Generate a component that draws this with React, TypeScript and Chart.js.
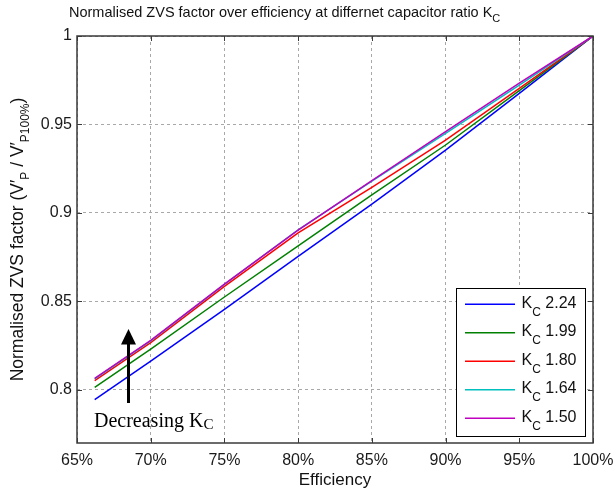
import React, { useEffect, useRef } from 'react';
import { Chart, registerables } from 'chart.js';

Chart.register(...registerables);

// Data
const efficiency = [66.2, 70, 75, 80, 85, 90, 95, 100];
const kc224 = [0.7945, 0.8163, 0.8455, 0.8755, 0.905, 0.9355, 0.9676, 1.0];
const kc199 = [0.8015, 0.823, 0.8525, 0.8814, 0.9102, 0.9384, 0.9691, 1.0];
const kc180 = [0.8052, 0.8267, 0.8585, 0.8888, 0.9145, 0.9412, 0.9704, 1.0];
const kc164 = [0.8062, 0.8277, 0.8596, 0.8905, 0.918, 0.945, 0.9723, 1.0];
const kc150 = [0.8065, 0.828, 0.8598, 0.8903, 0.9183, 0.9459, 0.9733, 1.0];

const seriesValues = [kc224, kc199, kc180, kc164, kc150];
const seriesLabels = ['2.24', '1.99', '1.80', '1.64', '1.50'];
const seriesColors = ['#0000ff', '#008000', '#ff0000', '#00bfbf', '#bf00bf'];

const xTicks = [65, 70, 75, 80, 85, 90, 95, 100];
const yTicks = [0.8, 0.85, 0.9, 0.95, 1];

const SANS = '"Liberation Sans", Arial, sans-serif';
const SERIF = '"Liberation Serif", "Times New Roman", serif';

type Part = { t: string; sub?: boolean };

function partsWidth(ctx: CanvasRenderingContext2D, parts: Part[], main: string, sub: string) {
  let w = 0;
  for (const p of parts) {
    ctx.font = p.sub ? sub : main;
    w += ctx.measureText(p.t).width;
  }
  return w;
}

function drawParts(
  ctx: CanvasRenderingContext2D,
  parts: Part[],
  x: number,
  y: number,
  main: string,
  sub: string,
  subOffset: number
) {
  let cx = x;
  ctx.textAlign = 'left';
  ctx.textBaseline = 'alphabetic';
  for (const p of parts) {
    ctx.font = p.sub ? sub : main;
    ctx.fillText(p.t, cx, p.sub ? y + subOffset : y);
    cx += ctx.measureText(p.t).width;
  }
  return cx;
}

const decorPlugin = {
  id: 'decor',
  afterDraw(chart: any) {
    const ctx: CanvasRenderingContext2D = chart.ctx;
    const area = chart.chartArea;
    const xs = chart.scales.x;
    const ys = chart.scales.y;
    ctx.save();

    // axes box
    ctx.setLineDash([]);
    ctx.strokeStyle = '#3a3a3a';
    ctx.lineWidth = 1.5;
    ctx.strokeRect(area.left, area.top, area.right - area.left, area.bottom - area.top);

    // inner tick marks
    const tl = 5;
    ctx.lineWidth = 1;
    ctx.beginPath();
    for (const v of xTicks) {
      const px = Math.round(xs.getPixelForValue(v)) + 0.5;
      ctx.moveTo(px, area.bottom);
      ctx.lineTo(px, area.bottom - tl);
      ctx.moveTo(px, area.top);
      ctx.lineTo(px, area.top + tl);
    }
    for (const v of yTicks) {
      const py = Math.round(ys.getPixelForValue(v)) + 0.5;
      ctx.moveTo(area.left, py);
      ctx.lineTo(area.left + tl, py);
      ctx.moveTo(area.right, py);
      ctx.lineTo(area.right - tl, py);
    }
    ctx.stroke();

    ctx.fillStyle = '#111';

    // title
    drawParts(
      ctx,
      [{ t: 'Normalised ZVS factor over efficiency at differnet capacitor ratio K' }, { t: 'C', sub: true }],
      69,
      17,
      `14.5px ${SANS}`,
      `11px ${SANS}`,
      5
    );

    // x axis title
    ctx.font = `17px ${SANS}`;
    ctx.textAlign = 'center';
    ctx.textBaseline = 'alphabetic';
    ctx.fillText('Efficiency', (area.left + area.right) / 2, 485);

    // y axis title (rotated)
    const yParts: Part[] = [
      { t: 'Normalised ZVS factor (V\u2032' },
      { t: 'P', sub: true },
      { t: ' / V\u2032' },
      { t: 'P100%', sub: true },
      { t: ')' },
    ];
    const mainF = `17.5px ${SANS}`;
    const subF = `12px ${SANS}`;
    const w = partsWidth(ctx, yParts, mainF, subF);
    ctx.save();
    ctx.translate(23, (area.top + area.bottom) / 2);
    ctx.rotate(-Math.PI / 2);
    drawParts(ctx, yParts, -w / 2, 0, mainF, subF, 5.5);
    ctx.restore();

    // legend
    const lx = 456, ly = 288, lw = 129, lh = 148;
    ctx.fillStyle = '#fff';
    ctx.fillRect(lx, ly, lw, lh);
    ctx.strokeStyle = '#000';
    ctx.lineWidth = 1;
    ctx.strokeRect(lx + 0.5, ly + 0.5, lw, lh);
    chart.data.datasets.forEach((ds: any, i: number) => {
      const yy = 304.3 + i * 28.5;
      ctx.strokeStyle = ds.borderColor;
      ctx.lineWidth = 1.5;
      ctx.beginPath();
      ctx.moveTo(465, yy);
      ctx.lineTo(515, yy);
      ctx.stroke();
      ctx.fillStyle = '#111';
      drawParts(
        ctx,
        [{ t: 'K' }, { t: 'C', sub: true }, { t: ' ' + seriesLabels[i] }],
        521.5,
        yy + 3.5,
        `16px ${SANS}`,
        `12px ${SANS}`,
        8
      );
    });

    // annotation arrow
    ctx.strokeStyle = '#000';
    ctx.fillStyle = '#000';
    ctx.lineWidth = 3;
    ctx.beginPath();
    ctx.moveTo(128.5, 403);
    ctx.lineTo(128.5, 343);
    ctx.stroke();
    ctx.beginPath();
    ctx.moveTo(128.5, 329);
    ctx.lineTo(121, 344.5);
    ctx.lineTo(136, 344.5);
    ctx.closePath();
    ctx.fill();

    drawParts(
      ctx,
      [{ t: 'Decreasing K' }, { t: 'C', sub: true }],
      94,
      426.5,
      `20px ${SERIF}`,
      `15px ${SERIF}`,
      2.5
    );

    ctx.restore();
  },
};

export default function App() {
  const ref = useRef<HTMLCanvasElement | null>(null);

  useEffect(() => {
    if (!ref.current) return;
    const datasets = seriesValues.map((vals, i) => ({
      label: 'K_C ' + seriesLabels[i],
      data: vals.map((v, j) => ({ x: efficiency[j], y: v })),
      borderColor: seriesColors[i],
      backgroundColor: seriesColors[i],
      borderWidth: 1.5,
      pointRadius: 0,
      tension: 0,
      fill: false,
      order: seriesValues.length - i,
    }));

    const chart = new Chart(ref.current, {
      type: 'line',
      data: { datasets },
      options: {
        responsive: false,
        animation: false,
        layout: { padding: { left: 0, right: 21, top: 36, bottom: 0 } },
        plugins: {
          legend: { display: false },
          title: { display: false },
          tooltip: { enabled: false },
        },
        scales: {
          x: {
            type: 'linear',
            min: 65,
            max: 100,
            afterBuildTicks: (scale: any) => {
              scale.ticks = xTicks.map((v) => ({ value: v }));
            },
            afterFit: (scale: any) => {
              scale.height = 47;
              scale.paddingLeft = 0;
              scale.paddingRight = 0;
            },
            ticks: {
              autoSkip: false,
              maxRotation: 0,
              padding: 8,
              color: '#1a1a1a',
              font: { family: SANS, size: 16 },
              callback: (v: any) => v + '%',
            },
            grid: { color: '#a8a8a8', lineWidth: 1, drawTicks: false },
            border: { display: false, dash: [3, 3] },
          },
          y: {
            type: 'linear',
            min: 0.77,
            max: 1,
            afterBuildTicks: (scale: any) => {
              scale.ticks = yTicks.map((v) => ({ value: v }));
            },
            afterFit: (scale: any) => {
              scale.width = 77;
              scale.paddingTop = 0;
              scale.paddingBottom = 0;
            },
            ticks: {
              autoSkip: false,
              padding: 5,
              color: '#1a1a1a',
              font: { family: SANS, size: 16 },
              callback: (v: any) => String(Number(Number(v).toFixed(2))),
            },
            grid: { color: '#a8a8a8', lineWidth: 1, drawTicks: false },
            border: { display: false, dash: [3, 3] },
          },
        },
      },
      plugins: [decorPlugin],
    });
    return () => chart.destroy();
  }, []);

  return (
    <div style={{ position: 'absolute', left: 0, top: 0, width: 614, height: 490, background: '#fff' }}>
      <canvas ref={ref} width={614} height={490} style={{ display: 'block' }} />
    </div>
  );
}
